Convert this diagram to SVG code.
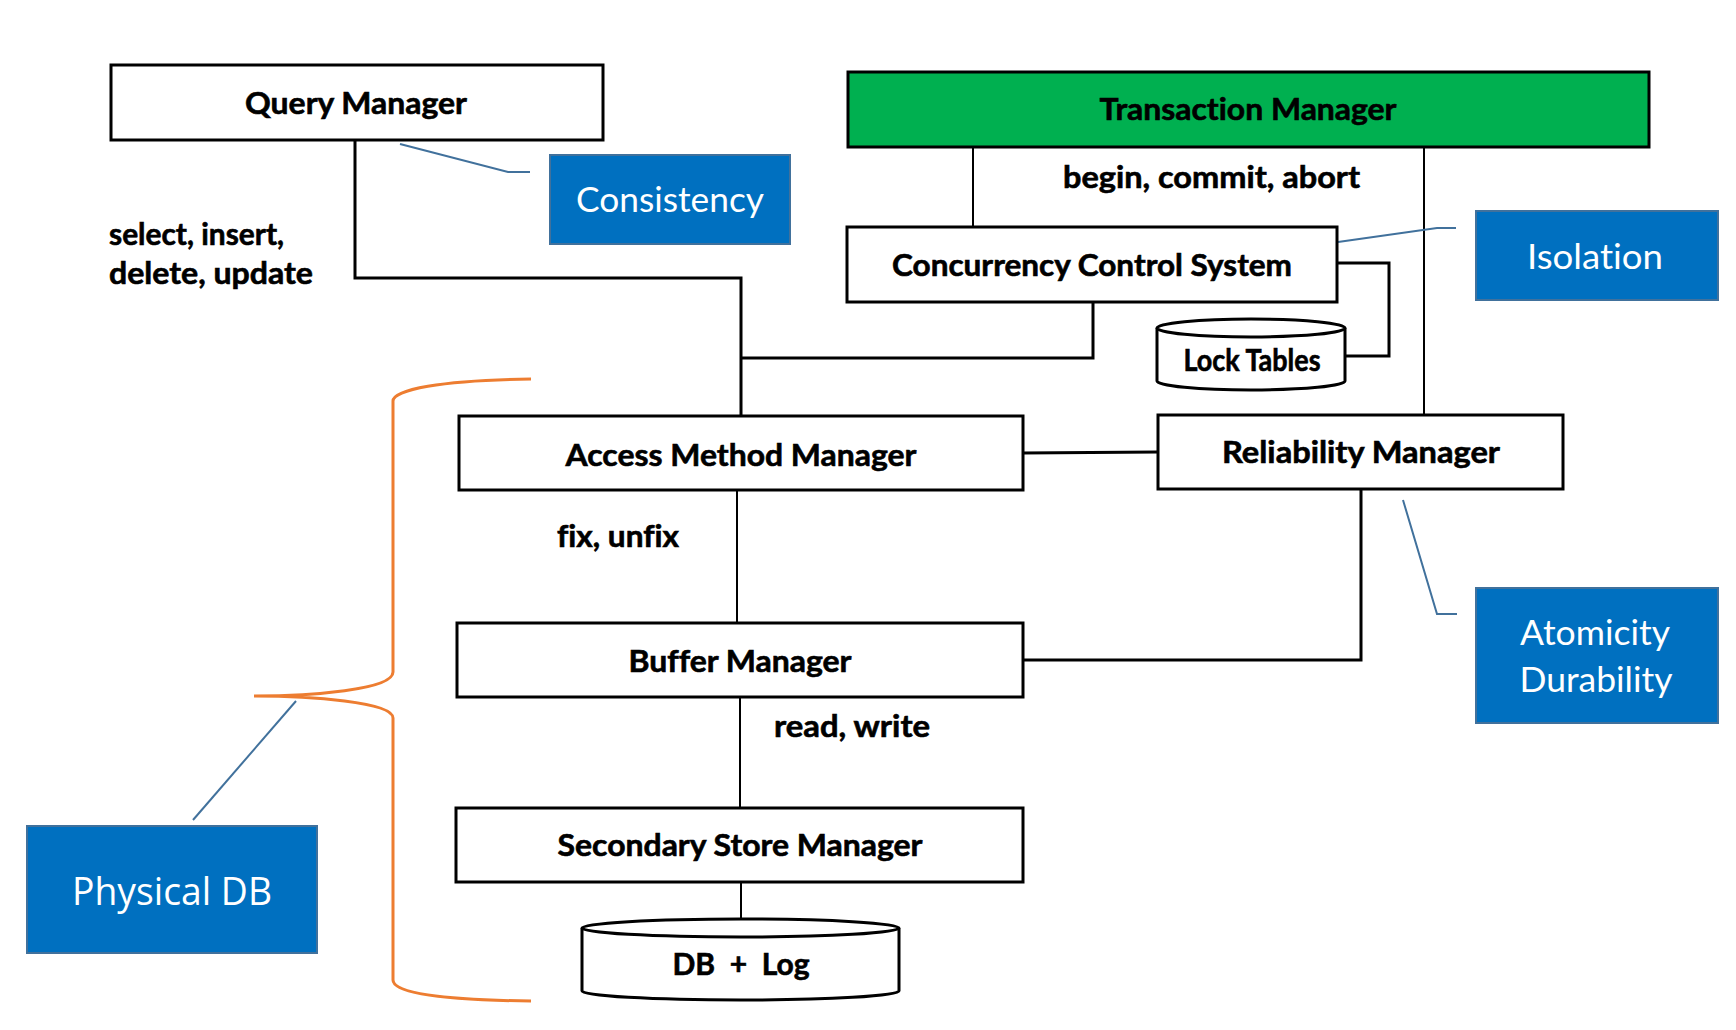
<svg xmlns="http://www.w3.org/2000/svg" width="1736" height="1030" viewBox="0 0 1736 1030">
<style>
.box{fill:#ffffff;stroke:#000000;stroke-width:3}
.green{fill:#00B050;stroke:#000000;stroke-width:3}
.blue{fill:#0070C0;stroke:#41719C;stroke-width:2}
.lbl{font-family:Lato,"Liberation Sans",sans-serif;font-weight:bold;font-size:30px;fill:#000000;stroke:#000000;stroke-width:0.6;font-variant-ligatures:none}
.wlbl{font-family:Lato,"Liberation Sans",sans-serif;font-size:35px;fill:#ffffff;font-variant-ligatures:none}
.plbl{font-family:"Open Sans","Liberation Sans",sans-serif;font-size:38px;fill:#ffffff}
.c3{fill:none;stroke:#000000;stroke-width:3}
.c2{fill:none;stroke:#000000;stroke-width:2}
.call{fill:none;stroke:#41719C;stroke-width:2}
.brace{fill:none;stroke:#ED7D31;stroke-width:3}
</style>
<rect width="1736" height="1030" fill="#ffffff"/>
<g id="connectors">
<path class="c3" d="M355,140 V278 H741 V416"/>
<path class="c3" d="M1093,302 V358 H741"/>
<path class="c2" d="M973,147 V227"/>
<path class="c2" d="M1424,147 V415"/>
<path class="c3" d="M1337,263 H1389 V356 H1345"/>
<path class="c3" d="M1023,453 L1158,452"/>
<path class="c2" d="M737,490 V623"/>
<path class="c3" d="M1361,489 V660 H1023"/>
<path class="c2" d="M740,697 V808"/>
<path class="c2" d="M741,882 V919"/>
</g>
<g id="callouts">
<path class="call" d="M400,144 L508,172 H530"/>
<path class="call" d="M1338,242 L1437,228 H1456"/>
<path class="call" d="M1403,500 L1437,614 H1457"/>
<path class="call" d="M296,701 L193,820"/>
</g>
<g id="brace">
<path class="brace" d="M531,379 C440,380 393,390 393,401 V672 C393,690 310,696 254,696 C310,696 393,702 393,718 V980 C393,993 440,1000 531,1001"/>
</g>
<g id="query-manager">
<rect class="box" x="111" y="65" width="492" height="75"/>
<text class="lbl" x="356" y="114" text-anchor="middle" textLength="222" lengthAdjust="spacingAndGlyphs">Query Manager</text>
</g>
<g id="consistency">
<rect class="blue" x="550" y="155" width="240" height="89"/>
<text class="wlbl" x="670" y="212" text-anchor="middle" textLength="188" lengthAdjust="spacingAndGlyphs">Consistency</text>
</g>
<g id="query-label">
<text class="lbl" x="109" y="245" textLength="175" lengthAdjust="spacingAndGlyphs">select, insert,</text>
<text class="lbl" x="109" y="284" textLength="204" lengthAdjust="spacingAndGlyphs">delete, update</text>
</g>
<g id="transaction-manager">
<rect class="green" x="848" y="72" width="801" height="75"/>
<text class="lbl" x="1248" y="120" text-anchor="middle" textLength="297" lengthAdjust="spacingAndGlyphs">Transaction Manager</text>
</g>
<g id="tm-label">
<text class="lbl" x="1063" y="188" textLength="297" lengthAdjust="spacingAndGlyphs">begin, commit, abort</text>
</g>
<g id="concurrency-control">
<rect class="box" x="847" y="227" width="490" height="75"/>
<text class="lbl" x="1092" y="276" text-anchor="middle" textLength="400" lengthAdjust="spacingAndGlyphs">Concurrency Control System</text>
</g>
<g id="isolation">
<rect class="blue" x="1476" y="211" width="242" height="89"/>
<text class="wlbl" x="1595" y="269" text-anchor="middle" textLength="136" lengthAdjust="spacingAndGlyphs">Isolation</text>
</g>
<g id="lock-tables">
<path class="box" d="M1157,328 V381 A94,9 0 0 0 1345,381 V328"/>
<ellipse class="box" cx="1251" cy="328" rx="94" ry="9"/>
<text class="lbl" x="1252" y="371" text-anchor="middle" font-size="27" textLength="137" lengthAdjust="spacingAndGlyphs">Lock Tables</text>
</g>
<g id="access-method-manager">
<rect class="box" x="459" y="416" width="564" height="74"/>
<text class="lbl" x="741" y="466" text-anchor="middle" textLength="351" lengthAdjust="spacingAndGlyphs">Access Method Manager</text>
</g>
<g id="reliability-manager">
<rect class="box" x="1158" y="415" width="405" height="74"/>
<text class="lbl" x="1361" y="463" text-anchor="middle" textLength="278" lengthAdjust="spacingAndGlyphs">Reliability Manager</text>
</g>
<g id="atomicity-durability">
<rect class="blue" x="1476" y="588" width="242" height="135"/>
<text class="wlbl" x="1595" y="645" text-anchor="middle" textLength="150" lengthAdjust="spacingAndGlyphs">Atomicity</text>
<text class="wlbl" x="1596" y="692" text-anchor="middle" textLength="153" lengthAdjust="spacingAndGlyphs">Durability</text>
</g>
<g id="amm-label">
<text class="lbl" x="557" y="547" textLength="122" lengthAdjust="spacingAndGlyphs">fix, unfix</text>
</g>
<g id="buffer-manager">
<rect class="box" x="457" y="623" width="566" height="74"/>
<text class="lbl" x="740" y="672" text-anchor="middle" textLength="223" lengthAdjust="spacingAndGlyphs">Buffer Manager</text>
</g>
<g id="bm-label">
<text class="lbl" x="774" y="737" textLength="156" lengthAdjust="spacingAndGlyphs">read, write</text>
</g>
<g id="secondary-store-manager">
<rect class="box" x="456" y="808" width="567" height="74"/>
<text class="lbl" x="740" y="856" text-anchor="middle" textLength="365" lengthAdjust="spacingAndGlyphs">Secondary Store Manager</text>
</g>
<g id="db-log">
<path class="box" d="M582,928 V991 A158.5,9 0 0 0 899,991 V928"/>
<ellipse class="box" cx="740.5" cy="928" rx="158.5" ry="9"/>
<text class="lbl" x="741" y="975" text-anchor="middle" xml:space="preserve" textLength="137" lengthAdjust="spacingAndGlyphs">DB  +  Log</text>
</g>
<g id="physical-db">
<rect class="blue" x="27" y="826" width="290" height="127"/>
<text class="plbl" x="172" y="905" text-anchor="middle" textLength="200" lengthAdjust="spacingAndGlyphs">Physical DB</text>
</g>
</svg>
